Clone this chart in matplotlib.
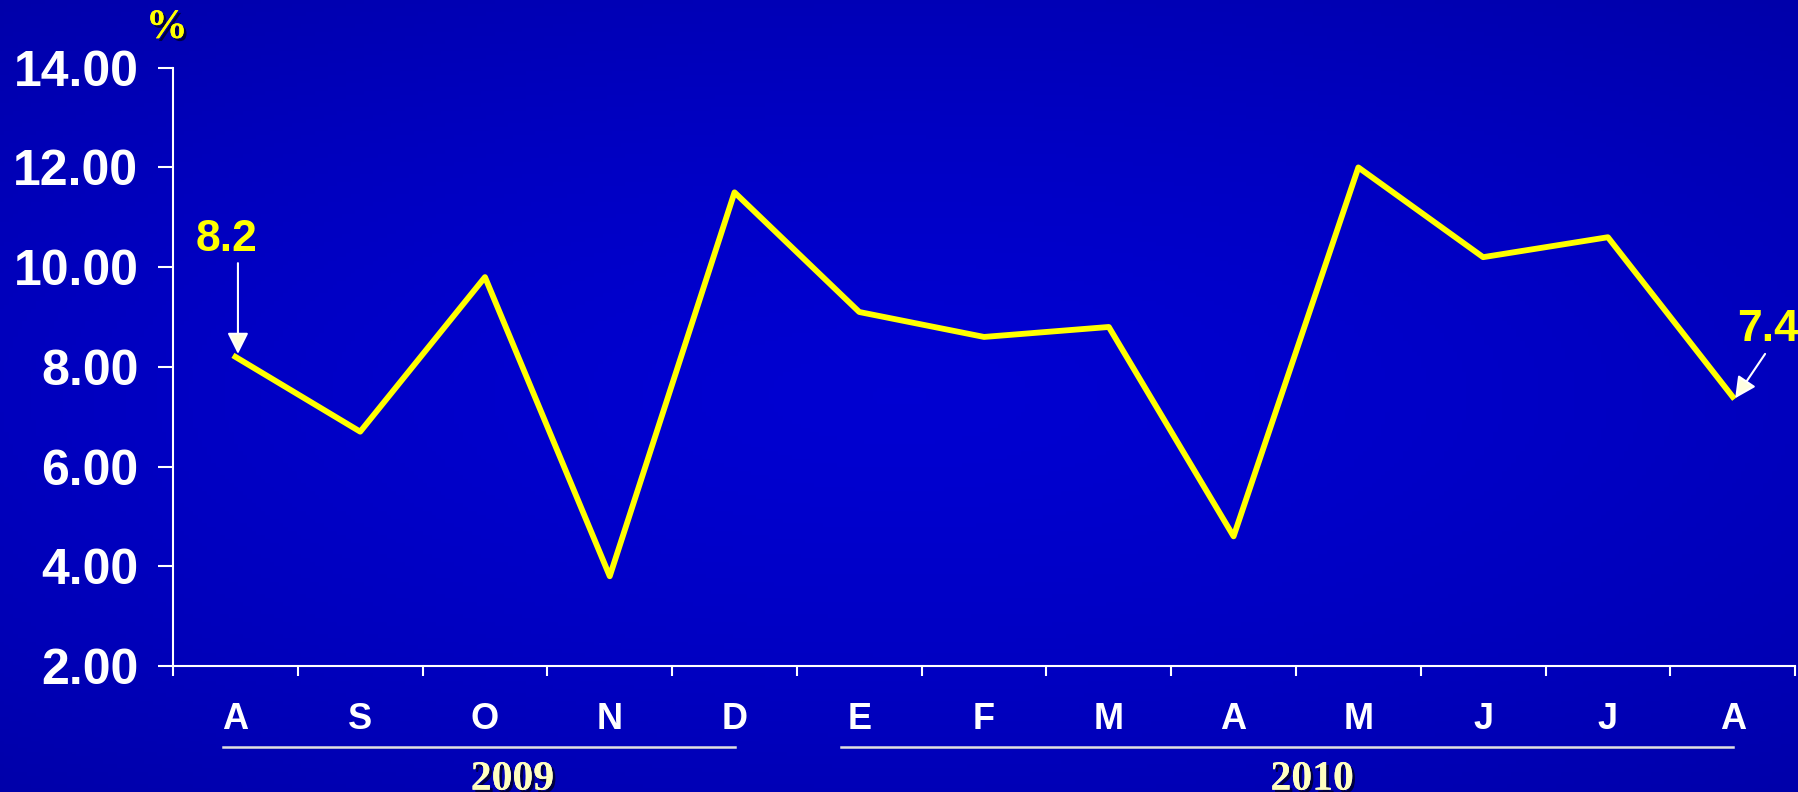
import numpy as np
import matplotlib
matplotlib.use("Agg")
import matplotlib.pyplot as plt
import matplotlib.patheffects as pe

# data
months = ["A", "S", "O", "N", "D", "E", "F", "M", "A", "M", "J", "J", "A"]
values = [8.2, 6.7, 9.8, 3.8, 11.5, 9.1, 8.6, 8.8, 4.6, 12.0, 10.2, 10.6, 7.4]
years = ["2009", "2010"]
year_spans = [(-0.1, 4.0), (4.85, 12.0)]
year_label_x = [2.22, 8.63]
yticks = [2, 4, 6, 8, 10, 12, 14]

plt.rcParams["font.family"] = ["Liberation Sans", "DejaVu Sans"]

fig = plt.figure(figsize=(17.99, 7.92), dpi=100)

# background gradient
bg = fig.add_axes([0, 0, 1, 1])
yy, xx = np.mgrid[0:1:200j, 0:1:400j]
r = np.sqrt(((xx - 0.5) / 0.9) ** 2 + ((yy - 0.5) / 0.75) ** 2)
r = np.clip(r, 0, 1)
blue = 0.82 - 0.19 * r ** 1.5
img = np.zeros(yy.shape + (3,))
img[..., 2] = blue
bg.imshow(img, aspect="auto", extent=[0, 1, 0, 1], origin="lower")
bg.axis("off")

ax = fig.add_axes([0.0962, 0.1591, 0.9016, 0.7554])
ax.patch.set_alpha(0)

x = np.arange(len(months))
ax.plot(x, values, color="#FFFF00", lw=4.2, zorder=3)

ax.set_xlim(-0.5, len(months) - 0.5)
ax.set_ylim(2, 14)
ax.set_yticks(yticks)
ax.set_yticklabels(["%.2f" % v for v in yticks])
ax.set_xticks(x)
ax.set_xticklabels(months)
ax.set_xticks(np.arange(len(months) + 1) - 0.5, minor=True)

for s in ["top", "right"]:
    ax.spines[s].set_visible(False)
for s in ["left", "bottom"]:
    ax.spines[s].set_color("white")
    ax.spines[s].set_linewidth(1.5)

ax.tick_params(axis="y", colors="white", length=11, width=1.5, pad=14,
               labelsize=36)
ax.tick_params(axis="x", which="major", length=0, pad=26, labelsize=26,
               colors="white")
ax.tick_params(axis="x", which="minor", length=7, width=1.5, color="white")
for lab in ax.get_yticklabels() + ax.get_xticklabels():
    lab.set_fontweight("bold")
    lab.set_color("white")

shadow = [pe.withSimplePatchShadow(offset=(2, -2), shadow_rgbFace="#000033",
                                   alpha=0.9), pe.Normal()]

# % unit label
ax.text(-0.55, 14.8, "%", color="#FFFF00", fontsize=30, fontweight="bold",
        family="Liberation Serif", ha="center", va="center", clip_on=False,
        path_effects=shadow)

# annotations for first and last values
arrow = dict(arrowstyle="-|>", color="white", fc="#FFFFE0", lw=1.5,
             mutation_scale=32, shrinkA=0, shrinkB=0)
ax.text(x[0] - 0.075, values[0] + 2.36, "%.1f" % values[0], color="#FFFF00",
        fontsize=32, fontweight="bold", ha="center", va="center")
ax.annotate("", xy=(x[0] + 0.02, values[0] + 0.06),
            xytext=(x[0] + 0.02, values[0] + 1.88), arrowprops=arrow)
ax.text(x[-1] + 0.28, values[-1] + 1.34, "%.1f" % values[-1], color="#FFFF00",
        fontsize=32, fontweight="bold", ha="center", va="center", clip_on=False)
ax.annotate("", xy=(x[-1] + 0.02, values[-1] - 0.03),
            xytext=(x[-1] + 0.26, values[-1] + 0.86), arrowprops=arrow,
            annotation_clip=False)

# year brackets
trans = ax.get_xaxis_transform()
for yr, (a, b), xc in zip(years, year_spans, year_label_x):
    ax.plot([a, b], [-0.135, -0.135], color="#E0E0E0", lw=1.8,
            transform=trans, clip_on=False)
    ax.text(xc, -0.19, yr, color="#FFFFC0", fontsize=30, fontweight="bold",
            family="Liberation Serif", ha="center", va="center",
            transform=trans, clip_on=False, path_effects=shadow)

fig.savefig("out.png", dpi=100)
